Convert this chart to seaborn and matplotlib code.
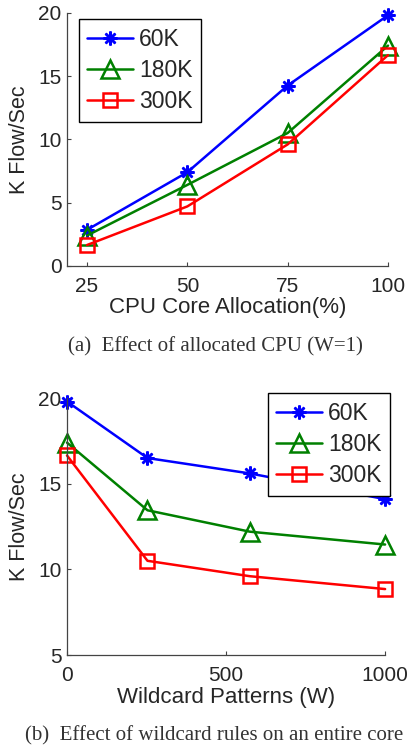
import seaborn as sns
import pandas as pd
import matplotlib.pyplot as plt

sns.set_style("ticks")
plt.rcParams['font.family'] = ['Liberation Sans', 'DejaVu Sans']

series = ["60K", "180K", "300K"]
colors = ["#0000ff", "#008000", "#ff0000"]
markers = [(8, 2, 0), "^", "s"]
msizes = [10, 12.5, 9.5]

# (a) CPU allocation, W=1
cpu = [25, 50, 75, 100]
cpu_60k = [2.85, 7.4, 14.25, 19.8]
cpu_180k = [2.4, 6.4, 10.5, 17.4]
cpu_300k = [1.65, 4.7, 9.6, 16.65]

# (b) wildcard patterns, full core
wild = [0, 253, 575, 1000]
wild_60k = [19.8, 16.5, 15.6, 14.1]
wild_180k = [17.4, 13.45, 12.2, 11.45]
wild_300k = [16.65, 10.5, 9.6, 8.85]

df_a = pd.DataFrame({"x": cpu * 3,
                     "y": cpu_60k + cpu_180k + cpu_300k,
                     "s": [s for s in series for _ in cpu]})
df_b = pd.DataFrame({"x": wild * 3,
                     "y": wild_60k + wild_180k + wild_300k,
                     "s": [s for s in series for _ in wild]})

fig = plt.figure(figsize=(4.11, 7.49), dpi=100)
ax1 = fig.add_axes([0.163, 0.645, 0.781, 0.338])
ax2 = fig.add_axes([0.163, 0.1255, 0.774, 0.343])

def draw(ax, df):
    for s, c, m, ms in zip(series, colors, markers, msizes):
        d = df[df.s == s]
        sns.lineplot(data=d, x="x", y="y", ax=ax, color=c, lw=1.8, marker=m,
                     markersize=ms, markerfacecolor="none", markeredgecolor=c,
                     markeredgewidth=1.8, label=s)
    for ln in ax.lines:
        ln.set_clip_on(False)
    sns.despine(ax=ax)
    for sp in ["left", "bottom"]:
        ax.spines[sp].set_color("#444444")
        ax.spines[sp].set_linewidth(0.9)
    ax.tick_params(direction="in", length=3, labelsize=15, color="#444444")
    ax.tick_params(axis="x", pad=8)
    ax.tick_params(axis="y", pad=4)
    ax.set_ylabel("K Flow/Sec", fontsize=15.5, labelpad=6)

def legend(ax, anchor, loc):
    leg = ax.legend(loc=loc, bbox_to_anchor=anchor, fontsize=16.5,
                    frameon=True, fancybox=False, edgecolor="black", framealpha=1,
                    handlelength=2.0, handletextpad=0.25, borderpad=0.38,
                    labelspacing=0.36, borderaxespad=0)
    leg.get_frame().set_linewidth(1.0)

draw(ax1, df_a)
ax1.set_xlim(20, 100)
ax1.set_ylim(0, 20)
ax1.set_xticks(cpu)
ax1.set_yticks([0, 5, 10, 15, 20])
ax1.set_xlabel("CPU Core Allocation(%)", fontsize=16, labelpad=1)
legend(ax1, (0.036, 0.975), "upper left")

draw(ax2, df_b)
ax2.set_xlim(0, 1000)
ax2.set_ylim(5, 20)
ax2.set_xticks([0, 500, 1000])
ax2.set_yticks([5, 10, 15, 20])
ax2.set_xlabel("Wildcard Patterns (W)", fontsize=16, labelpad=1)
legend(ax2, (1.016, 1.02), "upper right")

fig.text(0.523, 1 - 347 / 749, "(a)  Effect of allocated CPU (W=1)", ha="center",
         va="center", fontsize=15, family="Liberation Serif", color="#333333")
fig.text(0.521, 1 - 736 / 749, "(b)  Effect of wildcard rules on an entire core",
         ha="center", va="center", fontsize=15, family="Liberation Serif", color="#333333")

fig.savefig("out.png", dpi=100)
